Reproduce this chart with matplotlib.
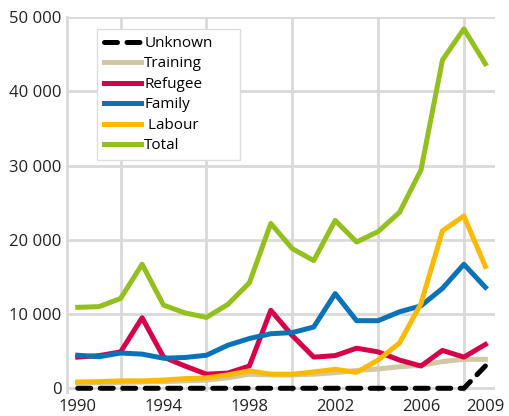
import matplotlib.pyplot as plt
import matplotlib.ticker as mticker

plt.rcParams['font.family'] = ['Open Sans', 'DejaVu Sans']

years = list(range(1990, 2010))

unknown = [0, 0, 0, 0, 0, 0, 0, 0, 0, 0, 0, 0, 0, 0, 0, 0, 0, 0, 0, 3000]
training = [700, 750, 800, 850, 900, 1000, 1100, 1400, 1900, 1800, 1800, 1900, 2100, 2400,
            2600, 2900, 3100, 3600, 3900, 3900]
refugee = [4200, 4400, 4900, 9500, 4200, 3000, 1900, 2050, 3000, 10500, 7100, 4200, 4400, 5400,
           4900, 3800, 3000, 5100, 4200, 5900]
family = [4450, 4250, 4750, 4600, 4050, 4150, 4450, 5800, 6700, 7350, 7500, 8250, 12750, 9100,
          9100, 10300, 11100, 13450, 16700, 13600]
labour = [850, 900, 1000, 1000, 1100, 1300, 1400, 1800, 2350, 1900, 1900, 2200, 2550, 2150,
          3800, 6100, 11400, 21200, 23200, 16400]
total = [10900, 11000, 12100, 16700, 11200, 10150, 9550, 11300, 14200, 22200, 18800, 17200,
         22600, 19700, 21100, 23700, 29400, 44200, 48400, 43700]

x_labels = [1990, 1994, 1998, 2002, 2006, 2009]
y_ticks = [0, 10000, 20000, 30000, 40000, 50000]

fig = plt.figure(figsize=(5.09, 4.16), dpi=100)
ax = fig.add_axes([67 / 509, 1 - 392 / 416, (495 - 67) / 509, (392 - 17) / 416])

lw = 3.6
ax.plot(years, unknown, color='black', lw=lw, ls=(0, (2.6, 1.9)), dash_capstyle='round',
        label='Unknown', zorder=6)
ax.plot(years, training, color='#d2c8a4', lw=lw, label='Training', zorder=3)
ax.plot(years, refugee, color='#d6004a', lw=lw, label='Refugee', zorder=4)
ax.plot(years, family, color='#0a72b8', lw=lw, label='Family', zorder=4)
ax.plot(years, labour, color='#fbb900', lw=lw, label=' Labour', zorder=5)
ax.plot(years, total, color='#93c01f', lw=lw, label='Total', zorder=4)

ax.set_xlim(1989.5, 2009.45)
ax.set_ylim(-500, 50000)

ax.set_xticks(x_labels)
ax.set_xticks(range(1990, 2009, 2), minor=True)
ax.set_yticks(y_ticks)
ax.yaxis.set_major_formatter(mticker.FuncFormatter(lambda v, p: f'{int(v):,}'.replace(',', ' ')))

ax.grid(False)
ax.xaxis.grid(True, which='minor', color='#d9d9d9', lw=2)
ax.yaxis.grid(True, which='major', color='#d9d9d9', lw=2)
ax.set_axisbelow(True)

ax.tick_params(axis='both', which='both', length=0, labelsize=12, colors='#222222')
ax.tick_params(axis='y', pad=4)
ax.tick_params(axis='x', pad=5)

for s in ['top', 'right', 'bottom']:
    ax.spines[s].set_visible(False)
ax.spines['left'].set_color('#d9d9d9')
ax.spines['left'].set_linewidth(2)

# legend box: x 97..240, y 29..156 in pixels
lx, lw_box = 30 / 428, 143 / 428
ltop = 1 - 12 / 375
lh = 127 / 375
leg = ax.legend(loc='upper left', bbox_to_anchor=(lx, ltop - lh, lw_box, lh), mode='expand',
                borderaxespad=0, fontsize=11,
                handlelength=2.4, handletextpad=0.25, labelspacing=0.36,
                borderpad=0.45, fancybox=False, framealpha=1)
leg.get_frame().set_edgecolor('#dddddd')
leg.get_frame().set_linewidth(1)

plt.savefig('out.png', dpi=100)
